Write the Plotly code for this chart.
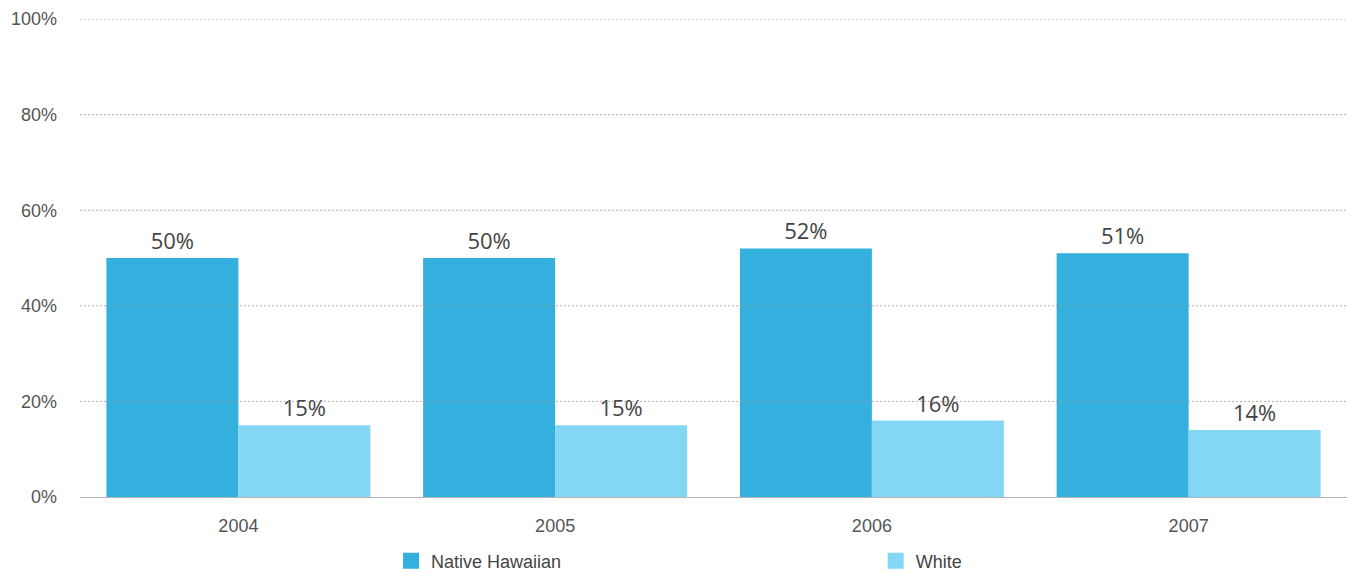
import plotly.graph_objects as go

years = ["2004", "2005", "2006", "2007"]
native_hawaiian = [50, 50, 52, 51]
white = [15, 15, 16, 14]
y_ticks = [0, 20, 40, 60, 80, 100]
y_tick_text = ["0%", "20%", "40%", "60%", "80%", "100%"]

series = [
    ("Native Hawaiian", native_hawaiian, "#34B0DF", "legend", 0.2455),
    ("White", white, "#84D6F5", "legend2", 0.628),
]

label_font = dict(family="Open Sans, Lato, sans-serif", size=22, color="#444444")
tick_font = dict(family="Liberation Sans, Arial, sans-serif", size=18, color="#555555")
legend_font = dict(family="Liberation Sans, Arial, sans-serif", size=18, color="#444444")

fig = go.Figure()
for name, vals, color, _, _ in series:
    fig.add_trace(go.Bar(
        x=years, y=vals, name=name,
        marker=dict(color=color, line=dict(width=0)),
        text=[f"{v}%" for v in vals],
        textposition="outside",
        textfont=label_font,
        cliponaxis=False,
        showlegend=False,
        hoverinfo="skip",
    ))

# Legend entries with larger square swatches, one legend box per series
for name, vals, color, leg, _ in series:
    fig.add_trace(go.Scatter(
        x=[None], y=[None], mode="markers", name=name,
        marker=dict(symbol="square", size=18, color=color),
        showlegend=True, legend=leg,
    ))

# Dotted gridlines drawn over the bars
for t in y_ticks[1:]:
    fig.add_shape(
        type="line", xref="paper", yref="y", x0=0, x1=1, y0=t, y1=t,
        line=dict(color="rgba(150,150,150,0.75)", width=1, dash="2px,2px"),
        layer="above",
    )

legend_common = dict(
    orientation="h", xanchor="left", y=-0.134, yanchor="middle",
    font=legend_font, bgcolor="rgba(0,0,0,0)", borderwidth=0,
    itemclick=False, itemdoubleclick=False,
)

fig.update_layout(
    width=1351, height=572,
    margin=dict(l=80, r=4, t=19, b=75, autoexpand=False),
    paper_bgcolor="white", plot_bgcolor="white",
    barmode="group", bargap=0.1665, bargroupgap=0,
    legend=dict(x=series[0][4], **legend_common),
    legend2=dict(x=series[1][4], **legend_common),
    xaxis=dict(
        showgrid=False, showline=True, linecolor="#B5B5B5", linewidth=1,
        tickfont=tick_font, ticks="", ticklabelstandoff=12,
        fixedrange=True,
    ),
    yaxis=dict(
        range=[0, 100], tickvals=y_ticks, ticktext=y_tick_text,
        showgrid=False, zeroline=False, showline=False,
        tickfont=tick_font, ticks="", ticklabelstandoff=22,
        fixedrange=True,
    ),
)

fig.write_html("out.html")
